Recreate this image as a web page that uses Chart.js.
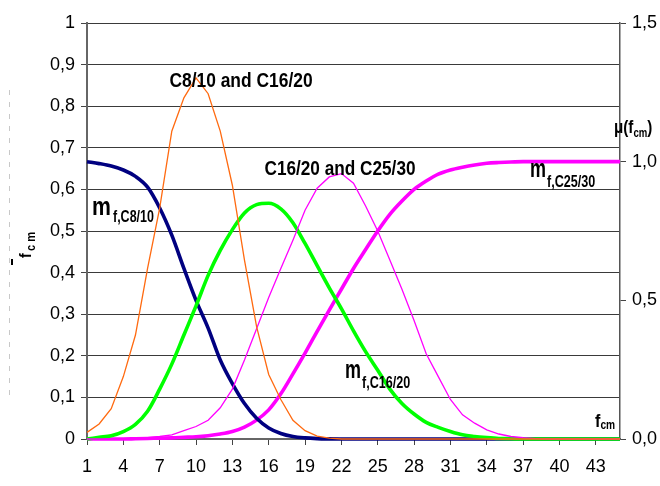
<!DOCTYPE html>
<html>
<head>
<meta charset="utf-8">
<script src="https://cdn.jsdelivr.net/npm/chart.js@4.4.1/dist/chart.umd.min.js"></script>
<style>
	html, body { margin: 0; padding: 0; background: #fff; }
	canvas { display: block; }
</style>
</head>
<body>
<canvas id="chart" width="660" height="486"></canvas>
<script>
const FONT = "'Liberation Sans', Arial, sans-serif";

// f_cm categories and the labelled ticks
const fcm = [1, 2, 3, 4, 5, 6, 7, 8, 9, 10, 11, 12, 13, 14, 15, 16, 17, 18, 19, 20, 21, 22, 23, 24, 25, 26, 27, 28, 29, 30, 31, 32, 33, 34, 35, 36, 37, 38, 39, 40, 41, 42, 43, 44, 45];
const xTicks = [1, 4, 7, 10, 13, 16, 19, 22, 25, 28, 31, 34, 37, 40, 43];

// thin curves, left axis
const c8c16 = [0.016, 0.036, 0.073, 0.15, 0.25, 0.41, 0.555, 0.74, 0.82, 0.868, 0.83, 0.74, 0.61, 0.43, 0.27, 0.155, 0.095, 0.045, 0.02, 0.007, 0.002, 0, 0, 0, 0, 0, 0, 0, 0, 0, 0, 0, 0, 0, 0, 0, 0, 0, 0, 0, 0, 0, 0, 0, 0];
const c16c25 = [0, 0, 0, 0, 0, 0.003, 0.006, 0.01, 0.02, 0.03, 0.045, 0.075, 0.12, 0.19, 0.265, 0.34, 0.41, 0.478, 0.55, 0.603, 0.63, 0.638, 0.615, 0.56, 0.5, 0.43, 0.36, 0.285, 0.205, 0.15, 0.095, 0.058, 0.038, 0.022, 0.012, 0.006, 0.003, 0.001, 0, 0, 0, 0, 0, 0, 0];

// membership functions, right axis
const mfC8 = [1.0, 0.993, 0.984, 0.97, 0.947, 0.908, 0.833, 0.735, 0.615, 0.5, 0.4, 0.285, 0.2, 0.128, 0.075, 0.04, 0.02, 0.009, 0.004, 0.0015, 0.0005, 0, 0, 0, 0, 0, 0, 0, 0, 0, 0, 0, 0, 0, 0, 0, 0, 0, 0, 0, 0, 0, 0, 0, 0];
const mfC16 = [0, 0.006, 0.012, 0.027, 0.053, 0.1, 0.18, 0.27, 0.375, 0.48, 0.59, 0.68, 0.755, 0.815, 0.845, 0.85, 0.83, 0.78, 0.705, 0.625, 0.545, 0.47, 0.39, 0.315, 0.248, 0.18, 0.128, 0.09, 0.06, 0.042, 0.027, 0.015, 0.009, 0.005, 0.002, 0.001, 0, 0, 0, 0, 0, 0, 0, 0, 0];
const mfC25 = [0, 0, 0, 0, 0.001, 0.002, 0.003, 0.004, 0.006, 0.008, 0.012, 0.018, 0.027, 0.043, 0.068, 0.105, 0.163, 0.235, 0.31, 0.388, 0.465, 0.54, 0.615, 0.683, 0.75, 0.81, 0.858, 0.9, 0.93, 0.955, 0.97, 0.98, 0.988, 0.994, 0.997, 0.999, 1, 1, 1, 1, 1, 1, 1, 1, 1];

const toPoints = (values) => values.map((v, i) => ({ x: fcm[i], y: v }));
const comma = (v) => String(v).replace('.', ',');

// squeezed text, the original fonts look condensed; returns the drawn width
const drawText = (ctx, text, x, y, size, sx, bold, align) => {
	ctx.save();
	ctx.font = (bold ? 'bold ' : '') + size + 'px ' + FONT;
	ctx.textAlign = align || 'left';
	ctx.textBaseline = 'alphabetic';
	const w = ctx.measureText(text).width * sx;
	ctx.translate(x, y);
	ctx.scale(sx, 1);
	ctx.fillText(text, 0, 0);
	ctx.restore();
	return w;
};

const labelsPlugin = {
	id: 'labels',
	afterDraw: (chart) => {
		const ctx = chart.ctx;
		ctx.fillStyle = '#000';

		drawText(ctx, 'C8/10 and C16/20', 241, 87, 20, 0.87, true, 'center');
		drawText(ctx, 'C16/20 and C25/30', 340, 175, 20, 0.86, true, 'center');

		drawText(ctx, 'm', 92, 215, 25, 0.85, true);
		drawText(ctx, 'f,C8/10', 113, 222, 16, 0.78, true);
		drawText(ctx, 'm', 345, 378, 25, 0.72, true);
		drawText(ctx, 'f,C16/20', 362, 388, 17, 0.74, true);
		drawText(ctx, 'm', 530, 177, 25, 0.72, true);
		drawText(ctx, 'f,C25/30', 547, 187, 17, 0.74, true);

		// right axis title
		let x = 614;
		x += drawText(ctx, '\u03bc(f', x, 133, 19, 0.8, true);
		x += drawText(ctx, 'cm', x, 137, 12, 0.8, true);
		drawText(ctx, ')', x, 133, 19, 0.8, true);

		// x axis name
		x = 595;
		x += drawText(ctx, 'f', x, 427, 19, 0.85, true);
		drawText(ctx, 'cm', x, 429, 12, 0.85, true);

		// clipped left axis title
		ctx.save();
		ctx.translate(31, 258);
		ctx.rotate(-Math.PI / 2);
		drawText(ctx, 'f', 0, 0, 17, 0.85, true);
		drawText(ctx, 'c m', 7, 4, 13, 0.85, true);
		ctx.restore();
		ctx.fillRect(11, 259, 2, 6);

		ctx.save();
		ctx.strokeStyle = '#c8c8c8';
		ctx.lineWidth = 1;
		ctx.setLineDash([5, 7]);
		ctx.beginPath();
		ctx.moveTo(9.5, 90);
		ctx.lineTo(9.5, 397);
		ctx.stroke();
		ctx.restore();
	}
};

const thin = (data, color) => ({
	data: toPoints(data), yAxisID: 'y', borderColor: color, borderWidth: 1.3,
	pointRadius: 0, tension: 0, clip: false
});
const thick = (data, color) => ({
	data: toPoints(data), yAxisID: 'y1', borderColor: color, borderWidth: 3.6,
	pointRadius: 0, cubicInterpolationMode: 'monotone', clip: false
});

new Chart(document.getElementById('chart').getContext('2d'), {
	type: 'line',
	data: {
		datasets: [
			thin(c8c16, '#ff6a10'),
			thin(c16c25, '#ff00ff'),
			thick(mfC16, '#00ff00'),
			thick(mfC8, '#000080'),
			thick(mfC25, '#ff00ff')
		]
	},
	options: {
		responsive: false,
		animation: false,
		layout: { padding: { top: 23, left: 0, right: 0, bottom: 0 } },
		plugins: { legend: { display: false }, tooltip: { enabled: false } },
		scales: {
			x: {
				type: 'linear', min: 1, max: 45,
				afterBuildTicks: (scale) => { scale.ticks = xTicks.map(v => ({ value: v })); },
				afterFit: (scale) => { scale.height = 47; },
				grid: { drawOnChartArea: false, tickLength: 6, tickColor: '#444' },
				border: { display: true, color: '#666', width: 2 },
				ticks: { color: '#000', font: { family: FONT, size: 18 }, padding: 11, maxRotation: 0, callback: (v) => String(v) }
			},
			y: {
				position: 'left', min: 0, max: 1,
				afterFit: (scale) => { scale.width = 87; },
				grid: { color: '#3a3a3a', lineWidth: 1, tickLength: 6, tickColor: '#444' },
				border: { display: true, color: '#666', width: 2 },
				ticks: { stepSize: 0.1, color: '#000', font: { family: FONT, size: 18 }, padding: 6,
					callback: (v) => comma(Math.round(v * 10) / 10) }
			},
			y1: {
				position: 'right', min: 0, max: 1.5,
				afterFit: (scale) => { scale.width = 40; },
				grid: { drawOnChartArea: false, tickLength: 6, tickColor: '#444' },
				border: { display: true, color: '#555', width: 1.5 },
				ticks: { stepSize: 0.5, color: '#000', font: { family: FONT, size: 18 }, padding: 6,
					callback: (v) => comma(v.toFixed(1)) }
			}
		}
	},
	plugins: [labelsPlugin]
});
</script>
</body>
</html>
